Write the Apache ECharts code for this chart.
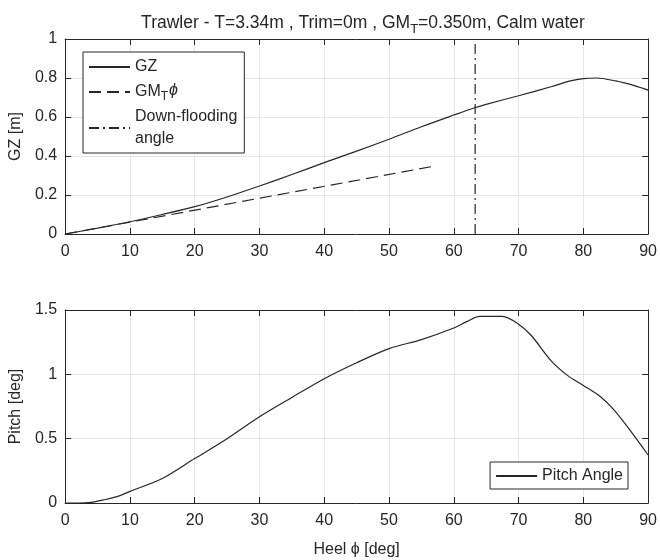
<!DOCTYPE html>
<html>
<head>
<meta charset="utf-8">
<script src="https://cdn.jsdelivr.net/npm/echarts@6/dist/echarts.min.js"></script>
<style>
  html, body { margin: 0; padding: 0; background: #fff; }
  #chart { width: 660px; height: 560px; }
</style>
</head>
<body>
<div id="chart"></div>
<script>
// Righting arm (GZ) curve of the trawler, heel angle in degrees
const heelGZ = [0, 5, 10, 15, 20, 25, 30, 35, 40, 45, 50, 55, 60, 63, 65, 70, 75, 78, 80, 82, 85, 88, 90];
const gzValues = [0, 0.03, 0.063, 0.1, 0.14, 0.19, 0.246, 0.305, 0.366, 0.425, 0.486, 0.55, 0.61, 0.645, 0.665, 0.709, 0.755, 0.785, 0.797, 0.8, 0.785, 0.76, 0.738];

// Initial stability line GM_T * phi, drawn up to 1 rad
const heelGM = [0, 57.3];
const gmValues = [0, 0.35];

// Down-flooding angle
const floodAngle = 63.3;
const floodSpan = [0, 1];

// Pitch angle response
const heelPitch = [0, 2, 4, 6, 8, 10, 15, 20, 25, 30, 35, 40, 45, 50, 55, 60, 62, 64, 67.5, 70, 72, 75, 77.6, 80, 82.7, 84.8, 87.4, 90];
const pitchValues = [0, 0, 0.005, 0.025, 0.05, 0.09, 0.19, 0.345, 0.5, 0.67, 0.82, 0.966, 1.09, 1.2, 1.27, 1.36, 1.41, 1.45, 1.45, 1.39, 1.3, 1.107, 0.99, 0.914, 0.824, 0.72, 0.553, 0.373];

// Axis ticks
const heelTicks = { min: 0, max: 90, interval: 10 };
const gzTicks = { min: 0, max: 1, interval: 0.2 };
const pitchTicks = { min: 0, max: 1.5, interval: 0.5 };

const pairs = (xs, ys) => xs.map((x, i) => [x, ys[i]]);

const ink = '#262626';
const gridColor = '#e6e6e6';
const font = 'Liberation Sans, Arial, Helvetica, sans-serif';
const tickSize = 16;

function xAxisOf(gridIndex, bottom, name) {
  return {
    type: 'value', gridIndex, position: bottom ? 'bottom' : 'top',
    min: heelTicks.min, max: heelTicks.max, interval: heelTicks.interval,
    name: name || '', nameLocation: 'middle', nameGap: 39,
    nameTextStyle: { color: ink, fontSize: 16, fontFamily: font },
    axisLine: { show: true, onZero: false, lineStyle: { color: ink, width: 1 } },
    axisTick: { show: true, inside: true, length: 6, lineStyle: { color: ink } },
    axisLabel: { show: bottom, color: ink, fontSize: tickSize, fontFamily: font, margin: 10 },
    splitLine: { show: bottom, lineStyle: { color: gridColor, width: 1 } }
  };
}
function yAxisOf(gridIndex, left, ticks, name) {
  return {
    type: 'value', gridIndex, position: left ? 'left' : 'right',
    min: ticks.min, max: ticks.max, interval: ticks.interval,
    name: name || '', nameLocation: 'middle', nameGap: 36, nameRotate: 90,
    nameTextStyle: { color: ink, fontSize: 16, fontFamily: font },
    axisLine: { show: true, onZero: false, lineStyle: { color: ink, width: 1 } },
    axisTick: { show: true, inside: true, length: 6, lineStyle: { color: ink } },
    axisLabel: { show: left, color: ink, fontSize: tickSize, fontFamily: font, margin: 8 },
    splitLine: { show: left, lineStyle: { color: gridColor, width: 1 } }
  };
}

const legendRich = {
  n: { fontSize: 16, fontFamily: font, color: ink, lineHeight: 22 },
  s: { fontSize: 12, fontFamily: font, color: ink, padding: [10, 0, 0, 0], lineHeight: 22 },
  p: { fontSize: 16, fontFamily: font, fontStyle: 'italic', color: ink, padding: [0, 0, 2, 1], lineHeight: 22 }
};

const option = {
  backgroundColor: '#fff',
  animation: false,
  title: {
    text: '{a|Trawler - T=3.34m , Trim=0m , GM}{s|T}{a|=0.350m, Calm water}',
    left: 358, top: 6, textAlign: 'center',
    textStyle: {
      fontWeight: 'normal',
      rich: {
        a: { fontSize: 17.5, fontFamily: font, color: ink, fontWeight: 'normal' },
        s: { fontSize: 13, fontFamily: font, color: ink, fontWeight: 'normal', padding: [12, 0, 0, 0] }
      }
    }
  },
  grid: [
    { left: 64, right: 10, top: 39, height: 195 },
    { left: 64, right: 10, top: 310, height: 193 }
  ],
  xAxis: [
    xAxisOf(0, true), xAxisOf(0, false),
    xAxisOf(1, true, 'Heel \u03d5 [deg]'), xAxisOf(1, false)
  ],
  yAxis: [
    yAxisOf(0, true, gzTicks, 'GZ [m]'), yAxisOf(0, false, gzTicks),
    yAxisOf(1, true, pitchTicks, 'Pitch [deg]'), yAxisOf(1, false, pitchTicks)
  ],
  legend: [
    {
      data: ['GZ', 'GMT', 'Down-flooding\nangle'],
      orient: 'vertical', left: 83, top: 52,
      itemWidth: 41, itemHeight: 22, itemGap: 3,
      padding: [4, 7, 3, 5],
      backgroundColor: '#fff',
      borderColor: ink, borderWidth: 1, borderRadius: 0,
      itemStyle: { opacity: 0 },
      formatter: name => name === 'GMT' ? '{n|GM}{s|T}{p|\u03d5}' : '{n|' + name.replace('\n', '}\n{n|') + '}',
      textStyle: { color: ink, fontSize: 16, lineHeight: 22, fontFamily: font, rich: legendRich }
    },
    {
      data: ['Pitch Angle'],
      orient: 'vertical', right: 32, top: 462,
      itemWidth: 41, itemHeight: 12,
      padding: [6, 5, 5, 5],
      backgroundColor: '#fff',
      borderColor: ink, borderWidth: 1, borderRadius: 0,
      itemStyle: { opacity: 0 },
      textStyle: { color: ink, fontSize: 16, fontFamily: font }
    }
  ],
  series: [
    {
      name: 'GZ', type: 'line', xAxisIndex: 0, yAxisIndex: 0,
      data: pairs(heelGZ, gzValues), smooth: 0.3, symbol: 'none',
      lineStyle: { color: ink, width: 1.2 }, itemStyle: { color: ink }
    },
    {
      name: 'GMT', type: 'line', xAxisIndex: 0, yAxisIndex: 0,
      data: pairs(heelGM, gmValues), symbol: 'none',
      lineStyle: { color: ink, width: 1.2, type: [12, 6] }, itemStyle: { color: ink }
    },
    {
      name: 'Down-flooding\nangle', type: 'line', xAxisIndex: 0, yAxisIndex: 0,
      data: floodSpan.map(v => [floodAngle, v]), symbol: 'none',
      lineStyle: { color: ink, width: 1.2, type: [10, 4, 2, 4] }, itemStyle: { color: ink }
    },
    {
      name: 'Pitch Angle', type: 'line', xAxisIndex: 2, yAxisIndex: 2,
      data: pairs(heelPitch, pitchValues), smooth: 0.3, symbol: 'none',
      lineStyle: { color: ink, width: 1.2 }, itemStyle: { color: ink }
    }
  ]
};

const chart = echarts.init(document.getElementById('chart'), null, { renderer: 'canvas' });
chart.setOption(option);
</script>
</body>
</html>
